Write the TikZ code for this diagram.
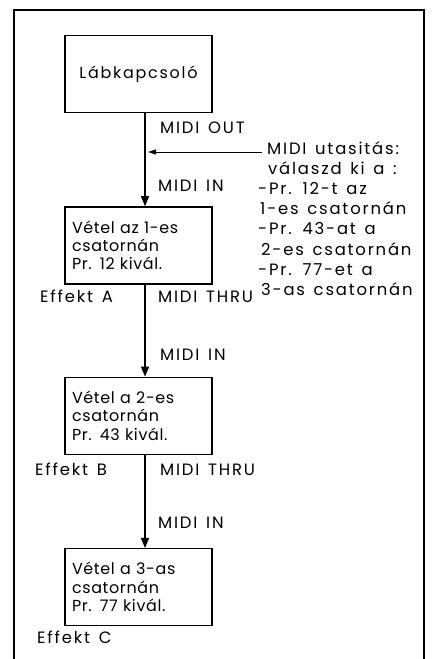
\documentclass[tikz,border=0pt]{standalone}
\usepackage{fontspec}
\setmainfont{Poppins}
\newfontfamily\diafont[LetterSpace=4]{Poppins}
\newfontfamily\lblfont[LetterSpace=11, WordSpace=1.4]{Poppins}
\usetikzlibrary{positioning, arrows.meta}
\tikzset{
  unitbox/.style = {draw, line width=1.4pt, minimum width=147bp, minimum height=77bp, inner sep=0pt, align=center, font=\diafont\fontsize{16}{18.5}\selectfont},
  recvbox/.style = {unitbox, text width=133bp, inner xsep=7bp, align=left},
  midi/.style    = {-{Triangle[length=10bp, width=8bp]}, line width=1.4pt},
  lbl/.style     = {anchor=base west, inner sep=0pt, align=left, font=\lblfont\fontsize{16.5}{20.3}\selectfont}
}

\begin{document}
\begin{tikzpicture}[x=1bp, y=-1bp]
  \useasboundingbox (0,0) rectangle (431,659);
  % open frame
  \draw[line width=1.2pt] (14,659) -- (14,10) -- (424,10) -- (424,659);

  \node[unitbox, font=\lblfont\fontsize{16}{18.5}\selectfont] (lab) at (138.5,74) {Lábkapcsoló};
  \node[recvbox, below=93bp of lab] (rx1) {Vétel az 1-es\\csatornán\\Pr. 12 kivál.};
  \node[recvbox, below=92bp of rx1] (rx2) {Vétel a 2-es\\csatornán\\Pr. 43 kivál.};
  \node[recvbox, below=93bp of rx2] (rx3) {Vétel a 3-as\\csatornán\\Pr. 77 kivál.};

  \draw[midi] ([xshift=6.5bp]lab.south) -- ([xshift=6.5bp]rx1.north);
  \draw[midi] ([xshift=6.5bp]rx1.south) -- ([xshift=6.5bp]rx2.north);
  \draw[midi] ([xshift=6.5bp]rx2.south) -- ([xshift=6.5bp]rx3.north);

  % program change message
  \coordinate (msg) at (262,152);
  \coordinate (tap) at (148,152);
  \draw[-{Triangle[length=8bp, width=5bp]}, line width=0.6pt] (msg) -- (tap);
  \node[lbl, anchor=north west] (note) at (258,141) {\hspace{9bp}MIDI utasitás:\\\hspace{10bp}válaszd ki a :\\-Pr. 12-t az\\\hspace{2bp}1-es csatornán\\-Pr. 43-at a\\\hspace{3bp}2-es csatornán\\-Pr. 77-et a\\\hspace{3bp}3-as csatornán};

  \node[lbl] (out1) at (160,133) {MIDI OUT};
  \node[lbl] (in1)  at (158,191) {MIDI IN};
  \node[lbl] (efa)  at (40,302)  {Effekt A};
  \node[lbl] (thr1) at (158,302) {MIDI THRU};
  \node[lbl] (in2)  at (160,360) {MIDI IN};
  \node[lbl] (efb)  at (35,475)  {Effekt B};
  \node[lbl] (thr2) at (160,475) {MIDI THRU};
  \node[lbl] (in3)  at (158,528) {MIDI IN};
  \node[lbl] (efc)  at (37,643)  {Effekt C};
\end{tikzpicture}
\end{document}
